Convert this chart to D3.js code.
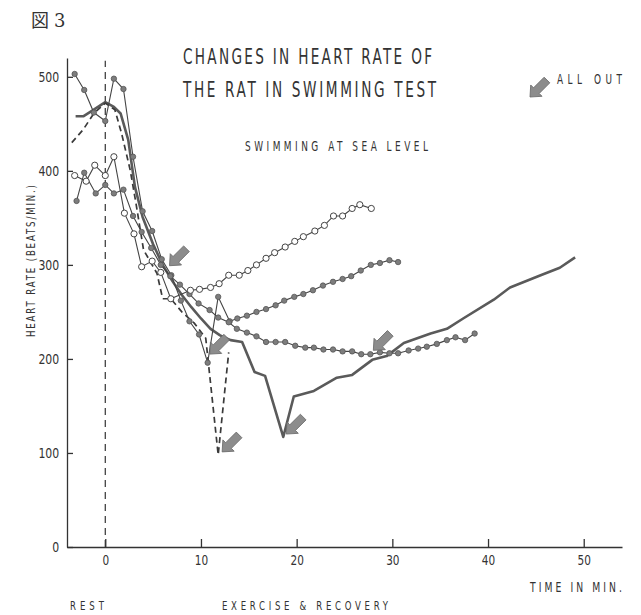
<!DOCTYPE html>
<html>
<head>
<meta charset="utf-8">
<script src="https://cdn.jsdelivr.net/npm/d3@7"></script>
<style>
  body { margin: 0; background: #fff; }
  svg { display: block; }
  text { font-family: 'DejaVu Sans', sans-serif; fill: #333; }
</style>
</head>
<body>
<svg id="chart" width="641" height="615"></svg>
<script>
// time (min), heart rate (beats/min)
const filledTop = [[-3.2, 503], [-2.2, 486], [-1.2, 462], [0, 453], [0.9, 498], [1.9, 487], [2.9, 415],
  [3.9, 357], [4.9, 336], [5.9, 306], [6.9, 289], [7.9, 262], [8.8, 240], [9.8, 226], [10.7, 196],
  [11.8, 266], [13, 240], [13.8, 243], [14.8, 246], [15.8, 250], [16.8, 253], [17.8, 257], [18.7, 262],
  [19.75, 266], [20.7, 269], [21.7, 273], [22.75, 278], [23.8, 282], [24.8, 285], [25.7, 288],
  [26.7, 294], [27.75, 300], [28.7, 302], [29.7, 305], [30.6, 303]];

const openCircles = [[-3.2, 395], [-2, 389], [-1.1, 406], [0, 395], [0.9, 415], [2, 355], [3, 333],
  [3.8, 298], [4.9, 304], [5.8, 292], [6.85, 264], [8.9, 273], [9.85, 274], [11, 276], [11.9, 280],
  [12.9, 289], [14, 289], [14.9, 294], [15.8, 300], [16.8, 307], [17.7, 313], [18.8, 319], [19.8, 325],
  [20.7, 330], [21.9, 336], [22.9, 342], [23.85, 352], [24.8, 352], [25.8, 360], [26.6, 364], [27.8, 360]];

const filledLow = [[-3, 368], [-2.2, 398], [-1, 376], [0, 385], [0.9, 376], [1.9, 380], [2.9, 352],
  [3.8, 335], [4.8, 318], [5.8, 300], [6.8, 288], [7.8, 279], [8.8, 269], [9.75, 259], [10.9, 252],
  [11.8, 244], [12.9, 239], [13.75, 232], [14.8, 228], [15.8, 224], [16.8, 218], [17.8, 218], [18.8, 218],
  [19.85, 214], [20.9, 212], [21.8, 212], [22.8, 210], [23.8, 210], [24.8, 208], [25.8, 208], [26.75, 205],
  [27.7, 205], [28.7, 207], [29.7, 206], [30.6, 206], [31.7, 209], [32.7, 211], [33.6, 213], [34.65, 216],
  [35.7, 220], [36.6, 223], [37.6, 220], [38.6, 227]];

const thickLine = [[-3.1, 458], [-2.3, 458], [-1.2, 465], [0, 473], [0.9, 468], [1.6, 461], [2.4, 433],
  [3.1, 383], [3.9, 351], [5, 322], [6, 300], [7, 283], [8, 268], [9, 255], [10, 243], [11, 232],
  [12, 225], [13.1, 220], [14.3, 218], [15.6, 186], [16.7, 182], [18.6, 117], [19.7, 160], [21.8, 166],
  [24.2, 180], [25.8, 183], [27.9, 199], [29.4, 203], [31.2, 217], [34, 227], [35.7, 232], [37.4, 243],
  [40.6, 263], [42.3, 276], [45.5, 289], [47.5, 297], [49.1, 308]];

const dashedLine = [[-3.5, 430], [-2.3, 444], [-1.2, 461], [0, 472], [1, 465], [1.7, 440], [2.6, 401],
  [3.2, 366], [4, 316], [5.4, 291], [6, 264], [6.85, 264], [8, 250], [9.3, 238], [10.5, 222],
  [11.8, 98], [12.9, 207]];

// points marked "ALL OUT"
const allOut = [[6.4, 297], [10.6, 203], [11.9, 99], [18.6, 118], [27.7, 207]];

const xTicks = [0, 10, 20, 30, 40, 50];
const yTicks = [0, 100, 200, 300, 400, 500];

const svg = d3.select('#chart');

const x = d3.scaleLinear().domain([-4, 54]).range([67, 622]);
const y = d3.scaleLinear().domain([0, 520]).range([547, 58]);

const line = d3.line().x(d => x(d[0])).y(d => y(d[1]));

// rest / exercise divider
svg.append('line')
  .attr('x1', x(0)).attr('x2', x(0))
  .attr('y1', y(0)).attr('y2', y(517))
  .attr('stroke', '#333').attr('stroke-width', 1.2)
  .attr('stroke-dasharray', '7,5');

// axes
const xAxis = d3.axisBottom(x).tickValues(xTicks).tickSizeInner(-8).tickSizeOuter(0).tickPadding(8);
const yAxis = d3.axisLeft(y).tickValues(yTicks).tickSizeInner(-6).tickSizeOuter(0).tickPadding(10);

const gx = svg.append('g').attr('transform', `translate(0,${y(0)})`).call(xAxis);
const gy = svg.append('g').attr('transform', `translate(${x(-4)},0)`).call(yAxis);

[gx, gy].forEach(g => {
  g.selectAll('path, line').attr('stroke', '#333').attr('stroke-width', 1.3);
  g.selectAll('text').attr('font-size', 14).attr('fill', '#333')
    .style('font-family', "'DejaVu Sans', sans-serif");
});
// narrow tick digits like the original typeface
gx.selectAll('.tick text').attr('transform', 'scale(0.75,1)');
gy.selectAll('.tick text').attr('transform', 'scale(0.78,1)');

// series lines
svg.append('path').datum(thickLine)
  .attr('d', line).attr('fill', 'none')
  .attr('stroke', '#5a5a5a').attr('stroke-width', 2.6).attr('stroke-linejoin', 'round');

svg.append('path').datum(dashedLine)
  .attr('d', line).attr('fill', 'none')
  .attr('stroke', '#3a3a3a').attr('stroke-width', 1.7).attr('stroke-dasharray', '6,4');

[filledTop, filledLow, openCircles].forEach(s => {
  svg.append('path').datum(s)
    .attr('d', line).attr('fill', 'none')
    .attr('stroke', '#444').attr('stroke-width', 1.1);
});

// markers
[filledTop, filledLow].forEach(s => {
  svg.append('g').selectAll('circle')
    .data(s)
    .enter()
    .append('circle')
    .attr('cx', d => x(d[0]))
    .attr('cy', d => y(d[1]))
    .attr('r', 2.7)
    .attr('fill', '#7d7d7d')
    .attr('stroke', '#555')
    .attr('stroke-width', 0.8);
});

svg.append('g').selectAll('circle')
  .data(openCircles)
  .enter()
  .append('circle')
  .attr('cx', d => x(d[0]))
  .attr('cy', d => y(d[1]))
  .attr('r', 3.1)
  .attr('fill', '#fff')
  .attr('stroke', '#444')
  .attr('stroke-width', 1);

// block arrows pointing down-left
const arrowShape = '0,0 -9,-8 -9,-4 -24,-4 -24,4 -9,4 -9,8';
function arrow(px, py) {
  svg.append('polygon')
    .attr('points', arrowShape)
    .attr('transform', `translate(${px},${py}) rotate(135)`)
    .attr('fill', '#8c8c8c')
    .attr('stroke', '#6a6a6a')
    .attr('stroke-width', 0.8);
}
allOut.forEach(d => arrow(x(d[0]) + 3, y(d[1]) - 2));
arrow(530, 97);

// condensed lettering: narrow glyphs, stretched spacing
function label(str, x0, y0, size, width, sx) {
  svg.append('g')
    .attr('transform', `translate(${x0},${y0}) scale(${sx},1)`)
    .append('text')
    .attr('x', 0).attr('y', 0)
    .attr('font-size', size)
    .attr('textLength', width / sx)
    .attr('lengthAdjust', 'spacing')
    .text(str);
}

svg.append('text').attr('x', 31).attr('y', 27).attr('font-size', 18)
  .style('font-family', "'Noto Sans CJK JP', sans-serif").text('図');
svg.append('text').attr('x', 54).attr('y', 27).attr('font-size', 18)
  .style('font-family', "'DejaVu Serif', serif").text('3');

label('CHANGES IN HEART RATE OF', 183, 64, 22, 249, 0.62);
label('THE RAT IN SWIMMING TEST', 183, 97, 22, 253, 0.62);
label('SWIMMING AT SEA LEVEL', 245, 151, 14, 183, 0.64);
label('ALL OUT', 557, 84, 13.5, 65, 0.66);
label('TIME IN MIN.', 530, 592, 14, 92, 0.66);
label('REST', 70, 610, 13, 34, 0.66);
label('EXERCISE & RECOVERY', 222, 610, 13, 166, 0.66);

// y axis title
svg.append('g')
  .attr('transform', 'translate(35,337) rotate(-90) scale(0.72,1)')
  .append('text')
  .attr('font-size', 12)
  .attr('textLength', 152 / 0.72)
  .attr('lengthAdjust', 'spacing')
  .text('HEART RATE (BEATS/MIN.)');
</script>
</body>
</html>
